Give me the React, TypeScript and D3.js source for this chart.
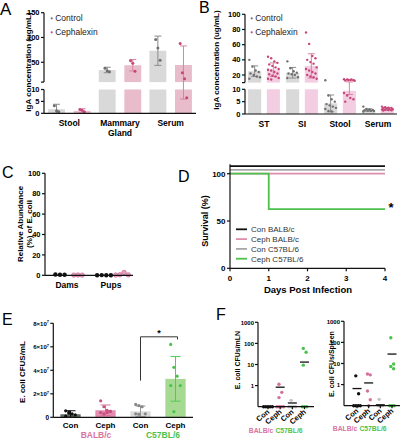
import React from "react";
import * as d3 from "d3";

const FONT = "'Liberation Sans', Arial, Helvetica, sans-serif";

// ---------- Panel A data ----------
const aCategories = ["Stool", "Mammary Gland", "Serum"];
const groups = ["Control", "Cephalexin"];
const aControlMean = [1.7, 34.4, 73.3];
const aControlSd = [2.1, 5.5, 29.5];
const aCephMean = [1.0, 44.0, 44.5];
const aCephSd = [0.9, 11.5, 38.5];
const aControlPoints = [[3.2, 1.1, 0.6], [38, 33, 31], [96, 79, 54]];
const aCephPoints = [[1.6, 1.3, 0.7], [53, 48, 32], [88, 29, 17, 6.5]];
const aUpperTicks = [50, 100, 150];
const aLowerTicks = [0, 5, 10];

// ---------- Panel B data ----------
const bCategories = ["ST", "SI", "Stool", "Serum"];
const bControlMean = [25, 23, 4.3, 1.6];
const bControlSd = [7, 7, 3.4, 0.5];
const bCephMean = [27, 32, 9.4, 2.0];
const bCephSd = [9, 16, 1.5, 0.6];
const bControlPoints = [
  [40, 31, 26, 24, 22, 20, 18, 17, 15],
  [38, 29, 25, 23, 22, 21, 20, 17, 16],
  [13, 7.5, 6, 5, 4, 3.5, 3, 2.5, 2, 1.2, 1],
  [3, 2, 1.8, 1.6, 1.5, 1.4, 1.3, 1.2, 1.0],
];
const bCephPoints = [
  [44, 42, 38, 36, 34, 32, 30, 28, 27, 26, 24, 22, 21, 19, 18, 16, 15, 14],
  [76, 61, 45, 42, 40, 37, 35, 30, 28, 26, 24, 22, 20, 18, 17, 15],
  [14.5, 14, 13.5, 13, 12.8, 13.5, 14, 12.5, 8.5, 7.5, 6.5, 6, 5],
  [3, 2.8, 2.6, 2.5, 2.3, 2.2, 2, 1.9, 1.8, 1.7, 1.6, 1.5, 1.4],
];
const bUpperTicks = [20, 40, 60, 80, 100];
const bLowerTicks = [0, 5, 10];

// ---------- Panel C data ----------
const cCategories = ["Dams", "Pups"];
const cControlPoints = [[0.8, 0.5, 0.6], [0.1, 0.2, 0.1, 0.1]];
const cCephPoints = [[0.2, 0.3, 0.2], [0.3, 0.5, 2.8, 0.4]];
const cTicks = [0, 20, 40, 60, 80, 100];

// ---------- Panel D data ----------
const dSeries = ["Con BALB/c", "Ceph BALB/c", "Con C57BL/6", "Ceph C57BL/6"];
const dDays = [0, 1, 4];
const dConBalb = [108, 108, 108];
const dCephBalb = [100, 100, 100];
const dConC57 = [104, 104, 104];
const dCephC57 = [100, 62.5, 62.5];
const dXTicks = [0, 1, 2, 3, 4];
const dYTicks = [0, 50, 100];

// ---------- Panel E data ----------
const eGroups = ["BALB/c", "C57BL/6"];
const eTreat = ["Con", "Ceph"];
const eMean = [[0.26e7, 0.6e7], [0.51e7, 3.27e7]];
const eSd = [[0.3e7, 0.45e7], [0.45e7, 1.9e7]];
const ePoints = [
  [[0.55e7, 0.45e7, 0.3e7, 0.2e7, 0.1e7, 0.35e7], [1.4e7, 0.9e7, 0.6e7, 0.5e7, 0.4e7, 0.3e7, 0.4e7, 0.5e7]],
  [[1.1e7, 1.0e7, 0.9e7, 0.3e7, 0.3e7, 0.25e7], [6.2e7, 4.25e7, 3.5e7, 2.7e7, 2.7e7, 0.48e7]],
];
const eTicks = [0, 2e7, 4e7, 6e7, 8e7];

// ---------- Panel F data ----------
const fKeys = ["Con BALB/c", "Ceph BALB/c", "Con C57BL/6", "Ceph C57BL/6"];
const fTickLabels = ["Con", "Ceph", "Con", "Ceph"];
const fMlnPoints = [[0, 0, 0, 0, 0], [1.15, 0.48, 0.27, 0, 0, 0, 0], [0.2, 0, 0, 0, 0], [58, 38, 9.3, 0, 0, 0]];
const fMlnLine = [0.1, 0.84, 0.15, 13];
const fSpleenPoints = [[2.6, 0.37, 0, 0, 0, 0], [3.2, 2.9, 0.5, 0.19, 0], [0.2, 0, 0, 0], [165, 9.4, 7.2, 5.6, 0, 0, 0]];
const fSpleenLine = [0.65, 1.2, 0.11, 28];
const fTicks = [1, 10, 100, 1000];

// colors
const GRAY_BAR = "#d9d9d9";
const GRAY_PT = "#6f6f6f";
const GRAY_ERR = "#8c8c8c";
const PINK_PT = "#c8457a";
const PINK_ERR = "#d6869f";
const GREEN = "#4cc24c";
const PINK_LABEL = "#d9739f";

const AX = { stroke: "#111", strokeWidth: 1.2 };

function BrokenPanel(props: any) {
  const { x0, x1, cats, catLines, yU, yL, split, uTicks, lTicks, means, sds, points, barColors, ptR, spread, labelY, legX, ylabelX, ylabelY } = props;
  const xO = d3.scaleBand(cats, [x0, x1]);
  const xI = d3.scaleBand(groups, [0, xO.bandwidth()]).paddingInner(props.pi).paddingOuter(props.po);
  const bw = xI.bandwidth();
  const yMap = (v: number) => (v >= split ? yU(v) : yL(Math.max(0, v)));
  const ptColors = [GRAY_PT, PINK_PT];
  const errColors = [GRAY_ERR, PINK_ERR];
  const els: any[] = [];
  cats.forEach((c: string, ci: number) => {
    groups.forEach((g, gi) => {
      const bx = (xO(c) as number) + (xI(g) as number);
      const m = means[gi][ci];
      const s = sds[gi][ci];
      const cx = bx + bw / 2;
      if (m > split) {
        els.push(<rect key={`u${ci}${gi}`} x={bx} y={yU(m)} width={bw} height={yU(split) - yU(m)} fill={barColors[gi]} />);
      }
      const lm = Math.min(m, split);
      els.push(<rect key={`l${ci}${gi}`} x={bx} y={yL(lm)} width={bw} height={yL(0) - yL(lm)} fill={barColors[gi]} />);
      const hi = yMap(m + s);
      const lo = yMap(Math.max(0, m - s));
      els.push(
        <g key={`e${ci}${gi}`} stroke={errColors[gi]} strokeWidth={1}>
          <line x1={cx} x2={cx} y1={hi} y2={lo} />
          <line x1={cx - 3.5} x2={cx + 3.5} y1={hi} y2={hi} />
          <line x1={cx - 3.5} x2={cx + 3.5} y1={lo} y2={lo} />
        </g>
      );
      const pts = points[gi][ci];
      pts.forEach((v: number, i: number) => {
        const n = pts.length;
        const off = n <= 4 ? (i - (n - 1) / 2) * spread : ((i % 4) - 1.5) * bw * 0.24 + ((Math.floor(i / 4) % 2) * 1.2 - 0.6);
        els.push(<circle key={`p${ci}${gi}${i}`} cx={cx + off} cy={yMap(v)} r={ptR} fill={ptColors[gi]} />);
      });
    });
  });
  return (
    <g>
      {els}
      <line x1={x0} x2={x0} y1={yU(uTicks[uTicks.length - 1])} y2={yU(split)} {...AX} />
      <line x1={x0} x2={x0} y1={yL(split)} y2={yL(0)} {...AX} />
      <line x1={x0 - 3} x2={x0} y1={yU(split)} y2={yU(split)} {...AX} />
      <line x1={x0} x2={x1} y1={yL(0)} y2={yL(0)} {...AX} />
      {uTicks.map((t: number) => (
        <g key={`ut${t}`}>
          <line x1={x0 - 3} x2={x0} y1={yU(t)} y2={yU(t)} {...AX} />
          <text x={x0 - 4.5} y={yU(t) + 2.6} fontSize={7.5} fontWeight="bold" textAnchor="end">{t}</text>
        </g>
      ))}
      {lTicks.map((t: number) => (
        <g key={`lt${t}`}>
          <line x1={x0 - 3} x2={x0} y1={yL(t)} y2={yL(t)} {...AX} />
          <text x={x0 - 4.5} y={yL(t) + 2.6} fontSize={7.5} fontWeight="bold" textAnchor="end">{t}</text>
        </g>
      ))}
      {cats.map((c: string, ci: number) => (
        <text key={`cl${c}`} x={(xO(c) as number) + xO.bandwidth() / 2} y={labelY} fontSize={8.5} fontWeight="bold" textAnchor="middle">
          {catLines[ci].map((ln: string, li: number) => (
            <tspan key={li} x={(xO(c) as number) + xO.bandwidth() / 2} dy={li === 0 ? 0 : 10}>{ln}</tspan>
          ))}
        </text>
      ))}
      {groups.map((g, gi) => (
        <g key={`lg${g}`}>
          <circle cx={legX} cy={18.3 + gi * 14} r={1.1} fill={ptColors[gi]} />
          <text x={legX + 3.5} y={21.3 + gi * 14} fontSize={8.5} fill="#222">{g}</text>
        </g>
      ))}
      <text transform={`translate(${ylabelX},${ylabelY}) rotate(-90)`} fontSize={8} fontWeight="bold" textAnchor="middle">IgA concentration (ug/mL)</text>
    </g>
  );
}

function PanelA() {
  const yU = d3.scaleLinear([10, 150], [82.1, 12.7]);
  const yL = d3.scaleLinear([0, 10], [113.3, 89.5]);
  return (
    <BrokenPanel
      x0={44} x1={196} cats={aCategories} catLines={[["Stool"], ["Mammary", "Gland"], ["Serum"]]}
      yU={yU} yL={yL} split={10} uTicks={aUpperTicks} lTicks={aLowerTicks}
      means={[aControlMean, aCephMean]} sds={[aControlSd, aCephSd]} points={[aControlPoints, aCephPoints]}
      barColors={[GRAY_BAR, "#e8bccb"]} ptR={1.5} spread={2.2} pi={0.34} po={0.16}
      labelY={126} legX={51.7} ylabelX={31} ylabelY={62}
    />
  );
}

function PanelB() {
  const yU = d3.scaleLinear([10, 100], [82.6, 14.3]);
  const yL = d3.scaleLinear([0, 10], [114, 89.3]);
  return (
    <BrokenPanel
      x0={245} x1={397} cats={bCategories} catLines={[["ST"], ["SI"], ["Stool"], ["Serum"]]}
      yU={yU} yL={yL} split={10} uTicks={bUpperTicks} lTicks={bLowerTicks}
      means={[bControlMean, bCephMean]} sds={[bControlSd, bCephSd]} points={[bControlPoints, bCephPoints]}
      barColors={[GRAY_BAR, "#f3cde2"]} ptR={1.2} spread={2.2} pi={0.3} po={0.166}
      labelY={127} legX={251.7} ylabelX={219} ylabelY={60}
    />
  );
}

function PanelC() {
  const y = d3.scaleLinear([0, 100], [275.3, 173.3]);
  const x = d3.scaleBand(cCategories, [45, 133]);
  return (
    <g>
      {cCategories.map((c, ci) => {
        const cx = (x(c) as number) + x.bandwidth() / 2;
        const con = cControlPoints[ci];
        const ceph = cCephPoints[ci];
        return (
          <g key={c}>
            {con.map((v, i) => (
              <circle key={`k${i}`} cx={cx - 7 + (i - (con.length - 1) / 2) * 4.6} cy={y(v)} r={2.2} fill="#111" />
            ))}
            {ceph.map((v, i) => (
              <circle key={`p${i}`} cx={cx + 11 + (i - (ceph.length - 1) / 2) * 4.2} cy={y(v)} r={2.2} fill="#e6a3c0" stroke="#cf6f98" strokeWidth={0.8} />
            ))}
            <text x={cx} y={288} fontSize={8.5} fontWeight="bold" textAnchor="middle">{c}</text>
          </g>
        );
      })}
      <line x1={45} x2={45} y1={y(100)} y2={y(0)} {...AX} />
      <line x1={45} x2={133} y1={y(0)} y2={y(0)} {...AX} />
      {cTicks.map((t) => (
        <g key={t}>
          <line x1={42} x2={45} y1={y(t)} y2={y(t)} {...AX} />
          <text x={40.5} y={y(t) + 2.6} fontSize={7.5} fontWeight="bold" textAnchor="end">{t}</text>
        </g>
      ))}
      <text transform="translate(23,224) rotate(-90)" fontSize={8} fontWeight="bold" textAnchor="middle">Relative Abundance</text>
      <text transform="translate(32,224) rotate(-90)" fontSize={8} fontWeight="bold" textAnchor="middle">(%) of E. coli</text>
    </g>
  );
}

function PanelD() {
  const x = d3.scaleLinear([0, 4], [230, 385]);
  const y = d3.scaleLinear([0, 100], [268.3, 173.7]);
  const line = d3.line<[number, number]>().x((d) => x(d[0])).y((d) => y(d[1])).curve(d3.curveStepAfter);
  const series = [dConBalb, dCephBalb, dConC57, dCephC57];
  const colors = ["#111111", "#dc8fac", "#a8a8a8", GREEN];
  return (
    <g>
      {series.map((s, si) => (
        <path key={si} d={line(dDays.map((d, i) => [d, s[i]]) as [number, number][]) as string} fill="none" stroke={colors[si]} strokeWidth={1.8} />
      ))}
      <line x1={230} x2={230} y1={y(110)} y2={y(0)} {...AX} />
      <line x1={230} x2={385} y1={y(0)} y2={y(0)} {...AX} />
      {dXTicks.map((t) => (
        <g key={`x${t}`}>
          <line x1={x(t)} x2={x(t)} y1={y(0)} y2={y(0) + 3} {...AX} />
          <text x={x(t)} y={281} fontSize={8} fontWeight="bold" textAnchor="middle">{t}</text>
        </g>
      ))}
      {dYTicks.map((t) => (
        <g key={`y${t}`}>
          <line x1={227} x2={230} y1={y(t)} y2={y(t)} {...AX} />
          <text x={225.5} y={y(t) + 2.8} fontSize={8} fontWeight="bold" textAnchor="end">{t}</text>
        </g>
      ))}
      {dSeries.map((s, si) => (
        <g key={s}>
          <line x1={236} x2={247} y1={229.3 + si * 9.8} y2={229.3 + si * 9.8} stroke={colors[si]} strokeWidth={1.8} />
          <text x={251} y={232.2 + si * 9.8} fontSize={8} fill="#333">{s}</text>
        </g>
      ))}
      <text x={391} y={212} fontSize={13} fontWeight="bold" textAnchor="middle">*</text>
      <text x={308} y={293} fontSize={9.5} fontWeight="bold" textAnchor="middle">Days Post Infection</text>
      <text transform="translate(208,221) rotate(-90)" fontSize={9} fontWeight="bold" textAnchor="middle">Survival (%)</text>
    </g>
  );
}

function PanelE() {
  const y = d3.scaleLinear([0, 8e7], [417.3, 323.3]);
  const xO = d3.scaleBand(eGroups, [53, 193]);
  const xI = d3.scaleBand(eTreat, [0, xO.bandwidth()]).paddingInner(0.42).paddingOuter(0.21);
  const bw = xI.bandwidth();
  const barColors = [["#5d6b60", "#e48db2"], ["#dadada", "#a6da92"]];
  const ptColors = [["#111", "#c9507f"], ["#888", GREEN]];
  const errColors = [["#111", "#d7769d"], ["#999", "#56c856"]];
  const cxOf = (gi: number, ti: number) => (xO(eGroups[gi]) as number) + (xI(eTreat[ti]) as number) + bw / 2;
  const bLeft = cxOf(1, 0), bRight = cxOf(1, 1) + 2;
  return (
    <g>
      {eGroups.map((g, gi) =>
        eTreat.map((t, ti) => {
          const cx = cxOf(gi, ti);
          const m = eMean[gi][ti], s = eSd[gi][ti];
          const pts = ePoints[gi][ti];
          return (
            <g key={`${g}${t}`}>
              <rect x={cx - bw / 2} y={y(m)} width={bw} height={y(0) - y(m)} fill={barColors[gi][ti]} />
              <g stroke={errColors[gi][ti]} strokeWidth={1}>
                <line x1={cx} x2={cx} y1={y(m + s)} y2={y(Math.max(0, m - s))} />
                <line x1={cx - 5} x2={cx + 5} y1={y(m + s)} y2={y(m + s)} />
                <line x1={cx - 5} x2={cx + 5} y1={y(Math.max(0, m - s))} y2={y(Math.max(0, m - s))} />
              </g>
              {pts.map((v, i) => (
                <circle key={i} cx={cx + ((i % 4) - 1.5) * 3.2} cy={y(v)} r={1.6} fill={ptColors[gi][ti]} />
              ))}
              <text x={cx} y={428} fontSize={8} fontWeight="bold" textAnchor="middle">{t}</text>
            </g>
          );
        })
      )}
      <path d={`M${bLeft},${y(1.25e7) - 22} V${y(6.85e7)} H${bRight} V${y(6.2e7) - 5}`} fill="none" stroke="#333" strokeWidth={1} />
      <text x={(bLeft + bRight) / 2} y={336} fontSize={9} fontWeight="bold" textAnchor="middle">*</text>
      <line x1={53.3} x2={53.3} y1={y(8e7)} y2={y(0)} {...AX} />
      <line x1={53.3} x2={193} y1={y(0)} y2={y(0)} {...AX} />
      {eTicks.map((t) => (
        <g key={t}>
          <line x1={50.3} x2={53.3} y1={y(t)} y2={y(t)} {...AX} />
          {t === 0 ? (
            <text x={49} y={y(t) + 2.3} fontSize={6.5} fontWeight="bold" textAnchor="end">0</text>
          ) : (
            <text x={49} y={y(t) + 2.3} fontSize={6} fontWeight="bold" textAnchor="end">
              {`${t / 1e7}×10`}<tspan fontSize={4} dy={-2.5}>7</tspan>
            </text>
          )}
        </g>
      ))}
      <text x={96} y={438} fontSize={8.5} fontWeight="bold" fill={PINK_LABEL} textAnchor="middle">BALB/c</text>
      <text x={163} y={438} fontSize={8.5} fontWeight="bold" fill={GREEN} textAnchor="middle">C57BL/6</text>
      <text transform="translate(25,372) rotate(-90)" fontSize={8} fontWeight="bold" textAnchor="middle">E. coli CFUS/mL</text>
    </g>
  );
}

function LogPanel(props: any) {
  const { ax, axEnd, y0, y1, xr, pts, lines, ylabel, ylx, yly, glY, g1x, g2x } = props;
  const y = d3.scaleLog([0.1, 1000], [y0, y1]);
  const x = d3.scalePoint(fKeys, xr);
  const colors = ["#111", "#d66f9b", "#c4c4c4", GREEN];
  const yv = (v: number) => (v <= 0.1 ? y(0.1) : y(v));
  return (
    <g>
      {fKeys.map((k, ki) => {
        const cx = x(k) as number;
        const arr = pts[ki];
        const zeros = arr.filter((v: number) => v <= 0);
        const nz = arr.filter((v: number) => v > 0);
        return (
          <g key={k}>
            {zeros.map((v: number, i: number) => (
              <circle key={`z${i}`} cx={cx + (i - (zeros.length - 1) / 2) * 2.2} cy={yv(v)} r={1.7} fill={colors[ki]} />
            ))}
            {nz.map((v: number, i: number) => (
              <circle key={`n${i}`} cx={cx + (i % 2 === 0 ? -1.2 : 1.6)} cy={yv(v)} r={1.7} fill={colors[ki]} />
            ))}
            <line x1={cx - 4.5} x2={cx + 4.5} y1={yv(lines[ki])} y2={yv(lines[ki])} stroke="#111" strokeWidth={1.3} />
            <line x1={cx} x2={cx} y1={y0} y2={y0 + 2.5} {...AX} />
            <text transform={`translate(${cx + 2},${y0 + 6}) rotate(-40)`} fontSize={7.5} fontWeight="bold" textAnchor="end">{fTickLabels[ki]}</text>
          </g>
        );
      })}
      <line x1={ax} x2={ax} y1={y(1000)} y2={y0} {...AX} />
      <line x1={ax} x2={axEnd} y1={y0} y2={y0} {...AX} />
      {fTicks.map((t) => (
        <g key={t}>
          <line x1={ax - 3} x2={ax} y1={y(t)} y2={y(t)} {...AX} />
          <text x={ax - 4} y={y(t) + 2.2} fontSize={6} fontWeight="bold" textAnchor="end">{t}</text>
        </g>
      ))}
      <text transform={`translate(${ylx},${yly}) rotate(-90)`} fontSize={7} fontWeight="bold" textAnchor="middle">{ylabel}</text>
      <text x={g1x} y={glY} fontSize={6.8} fontWeight="bold" fill={PINK_LABEL} textAnchor="middle">BALB/c</text>
      <text x={g2x} y={glY} fontSize={6.8} fontWeight="bold" fill={GREEN} textAnchor="middle">C57BL/6</text>
    </g>
  );
}

function PanelF() {
  return (
    <g>
      <LogPanel ax={258} axEnd={314} y0={406.7} y1={322.3} xr={[268, 304.5]} pts={fMlnPoints} lines={fMlnLine}
        ylabel="E. coli CFUs/mLN" ylx={240} yly={360} glY={433} g1x={261} g2x={289} />
      <LogPanel ax={344} axEnd={400} y0={405.7} y1={321.3} xr={[357, 392]} pts={fSpleenPoints} lines={fSpleenLine}
        ylabel="E. coli CFUs/Spleen" ylx={334} yly={364} glY={431} g1x={345} g2x={373} />
    </g>
  );
}

export default function App() {
  return (
    <svg width={401} height={440} style={{ position: "absolute", left: 0, top: 0, background: "#fff" }} fontFamily={FONT}>
      <rect width={401} height={440} fill="#fff" />
      <PanelA />
      <PanelB />
      <PanelC />
      <PanelD />
      <PanelE />
      <PanelF />
      <text x={0} y={15} fontSize={17}>A</text>
      <text x={199} y={13} fontSize={16}>B</text>
      <text x={2} y={178} fontSize={16}>C</text>
      <text x={178} y={182} fontSize={16}>D</text>
      <text x={2} y={325} fontSize={16}>E</text>
      <text x={216} y={320} fontSize={16}>F</text>
    </svg>
  );
}
